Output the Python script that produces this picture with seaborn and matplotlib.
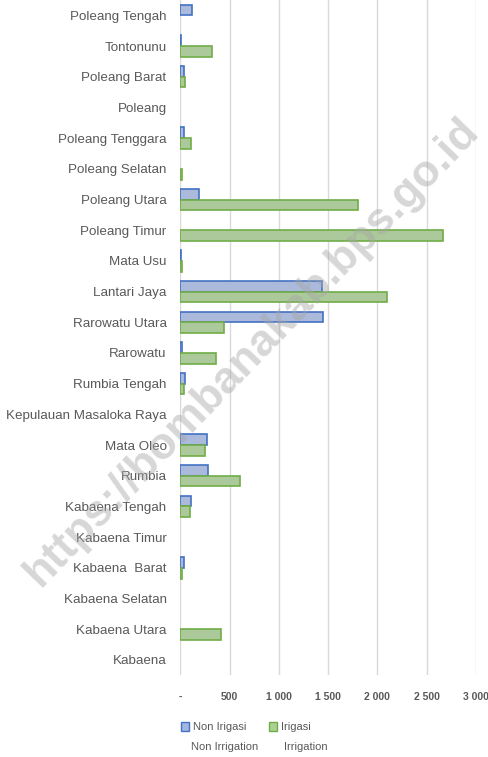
import pandas as pd
import numpy as np
import matplotlib.pyplot as plt
import seaborn as sns
from matplotlib.patches import Patch
from matplotlib.ticker import FixedLocator, FixedFormatter

# data (hectares)
kecamatan = ['Poleang Tengah', 'Tontonunu', 'Poleang Barat', 'Poleang', 'Poleang Tenggara',
             'Poleang Selatan', 'Poleang Utara', 'Poleang Timur', 'Mata Usu', 'Lantari Jaya',
             'Rarowatu Utara', 'Rarowatu', 'Rumbia Tengah', 'Kepulauan Masaloka Raya',
             'Mata Oleo', 'Rumbia', 'Kabaena Tengah', 'Kabaena Timur', 'Kabaena  Barat',
             'Kabaena Selatan', 'Kabaena Utara', 'Kabaena']
non_irigasi = [120, 8, 40, 0, 40, 0, 186, 0, 10, 1433, 1443, 20, 50, 0,
               273, 283, 110, 0, 40, 0, 0, 0]
irigasi = [0, 325, 50, 0, 110, 20, 1800, 2670, 12, 2093, 444, 366, 37, 0,
           254, 600, 100, 0, 15, 0, 417, 0]
series = ['Non Irigasi', 'Irigasi']
series_en = ['Non Irrigation', 'Irrigation']
x_ticks = [0, 500, 1000, 1500, 2000, 2500, 3000]
x_ticklabels = ['-', '500', '1 000', '1 500', '2 000', '2 500', '3 000']

fill_colors = ['#A3B5E3', '#AAD193']
edge_colors = ['#4472C4', '#70AD47']
gray = '#595959'

sns.set_style('white')
plt.rcParams['font.family'] = ['Liberation Sans', 'DejaVu Sans']

df = pd.DataFrame({
    'kecamatan': kecamatan * 2,
    'luas': non_irigasi + irigasi,
    'jenis': [series[0]] * len(kecamatan) + [series[1]] * len(kecamatan),
})

fig = plt.figure(figsize=(4.89, 7.57), dpi=100)
ax = fig.add_axes([0.369, 0.108, 0.604, 0.892])

sns.barplot(data=df, y='kecamatan', x='luas', hue='jenis', hue_order=series,
            orient='h', palette=fill_colors, width=0.7, ax=ax, legend=False,
            linewidth=1.2)

# per-series edge colour, hide empty bars
for cont, ec in zip(ax.containers, edge_colors):
    for bar in cont:
        bar.set_edgecolor(ec)
        bar.set_linewidth(1.2 if bar.get_width() > 0 else 0)
        bar.set_zorder(3)

ax.set_xlim(0, 3000)
ax.xaxis.set_major_locator(FixedLocator(x_ticks))
ax.xaxis.set_major_formatter(FixedFormatter(x_ticklabels))
ax.grid(axis='x', color='#D9D9D9', linewidth=1.0, zorder=0)
ax.set_axisbelow(True)
for s in ax.spines.values():
    s.set_visible(False)
ax.tick_params(axis='both', length=0)
ax.tick_params(axis='y', labelsize=9.6, labelcolor=gray, pad=10)
ax.tick_params(axis='x', labelsize=7.5, labelcolor=gray, pad=12)
for t in ax.get_xticklabels():
    t.set_fontweight('bold')
ax.set_xlabel('')
ax.set_ylabel('')

# legend: first line in legend, english line underneath
handles = [Patch(facecolor=fc, edgecolor=ec, linewidth=1.0) for fc, ec in zip(fill_colors, edge_colors)]
leg = fig.legend(handles, series, loc='upper left', bbox_to_anchor=(0.350, 0.059),
                 ncol=2, frameon=False, fontsize=8, handlelength=0.75, handleheight=0.75,
                 handletextpad=0.35, columnspacing=2.0, labelcolor=gray)
fig.text(0.391, 0.007, series_en[0], fontsize=8, color=gray, ha='left', va='bottom')
fig.text(0.580, 0.007, series_en[1], fontsize=8, color=gray, ha='left', va='bottom')

# watermark
fig.text(0.515, 0.535, 'https://bombanakab.bps.go.id', fontsize=32, fontweight='bold',
         color='#A6A6A6', alpha=0.45, rotation=46, ha='center', va='center',
         family=['Liberation Sans', 'DejaVu Sans'], zorder=10)

fig.savefig('out.png', dpi=100)
